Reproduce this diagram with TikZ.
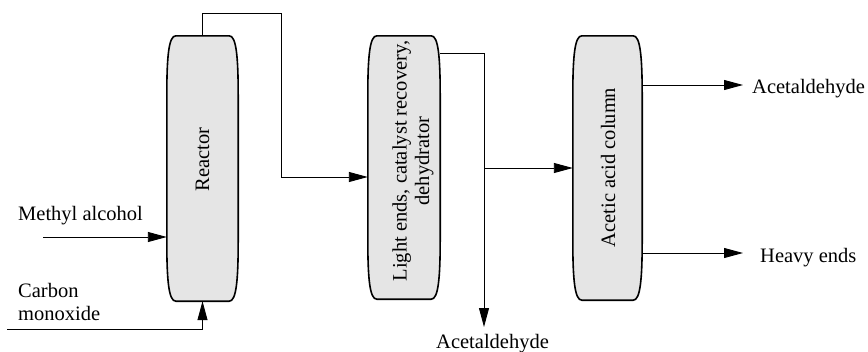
\documentclass[tikz,border=0pt]{standalone}
\usepackage{fontspec}
\setmainfont{Liberation Serif}
\usetikzlibrary{arrows.meta,calc}
\tikzset{
  lbl/.style={font=\fontsize{20.5}{22.5}\selectfont, inner sep=0pt},
  colbox/.style={draw=none, inner sep=0pt, rectangle},
  barrelline/.style={line width=1.6pt, fill=black!10},
  flow/.style={line width=0.9pt, -{Triangle[length=19pt,width=10pt]}},
  plain/.style={line width=0.9pt}
}
\newcommand\drawbarrel[1]{%
  \draw[barrelline] let \p1=(#1.north west), \p2=(#1.south east) in
    (\x1+9pt,\y1) -- (\x2-9pt,\y1)
    .. controls (\x2-2pt,\y1) and (\x2,\y1-20pt) .. (\x2,\y1-60pt)
    -- (\x2,\y2+60pt)
    .. controls (\x2,\y2+20pt) and (\x2-2pt,\y2) .. (\x2-9pt,\y2)
    -- (\x1+9pt,\y2)
    .. controls (\x1+2pt,\y2) and (\x1,\y2+20pt) .. (\x1,\y2+60pt)
    -- (\x1,\y1-60pt)
    .. controls (\x1,\y1-20pt) and (\x1+2pt,\y1) .. cycle;}
\begin{document}
\begin{tikzpicture}[x=1pt,y=1pt]
\useasboundingbox (0,0) rectangle (868,-351);
% columns
\node[colbox, minimum width=71pt, minimum height=265pt] (reactor) at (202.5,-168.5) {};
\node[colbox, minimum width=72pt, minimum height=263pt] (light) at (404,-167.5) {};
\node[colbox, minimum width=69pt, minimum height=264pt] (acetic) at (607.5,-168) {};
\drawbarrel{reactor}
\drawbarrel{light}
\drawbarrel{acetic}
% column texts
\node[lbl, rotate=90, anchor=base] (treactor) at (209,-159.5) {Reactor};
\node[lbl, rotate=90, anchor=base, align=center] (tlight) at (429,-161) {Light ends, catalyst recovery,\\dehydrator};
\node[lbl, rotate=90, anchor=base] (tacetic) at (615,-167.5) {Acetic acid column};
% outside labels
\node[lbl, anchor=base west] (methyl) at (18,-220) {Methyl alcohol};
\node[lbl, anchor=base west, align=left] (carbon) at (18,-320) {Carbon\\monoxide};
\node[lbl, anchor=base west] (ald1) at (752,-93) {Acetaldehyde};
\node[lbl, anchor=base west] (heavy) at (760,-262) {Heavy ends};
\node[lbl, anchor=base west] (ald2) at (436,-348) {Acetaldehyde};
% coordinates
\coordinate (ma) at (43,-237);
\coordinate (co) at (7,-329);
\coordinate (j1) at (281,-13);
\coordinate (in1) at (281,-177);
\coordinate (lo) at (484,-53);
\coordinate (ad) at (484,-327);
\coordinate (a1) at (743,-85);
\coordinate (h1) at (743,-253);
% connectors
\draw[flow] (ma) -- (ma -| reactor.west);
\draw[flow] (co) -| (reactor.south);
\draw[flow] (reactor.north) |- (j1) -- (in1) -- (in1 -| light.west);
\draw[flow] (lo -| light.east) -- (lo) -- (ad);
\draw[flow] (lo |- acetic.west) -- (acetic.west);
\draw[flow] (a1 -| acetic.east) -- (a1);
\draw[flow] (h1 -| acetic.east) -- (h1);
\end{tikzpicture}
\end{document}
